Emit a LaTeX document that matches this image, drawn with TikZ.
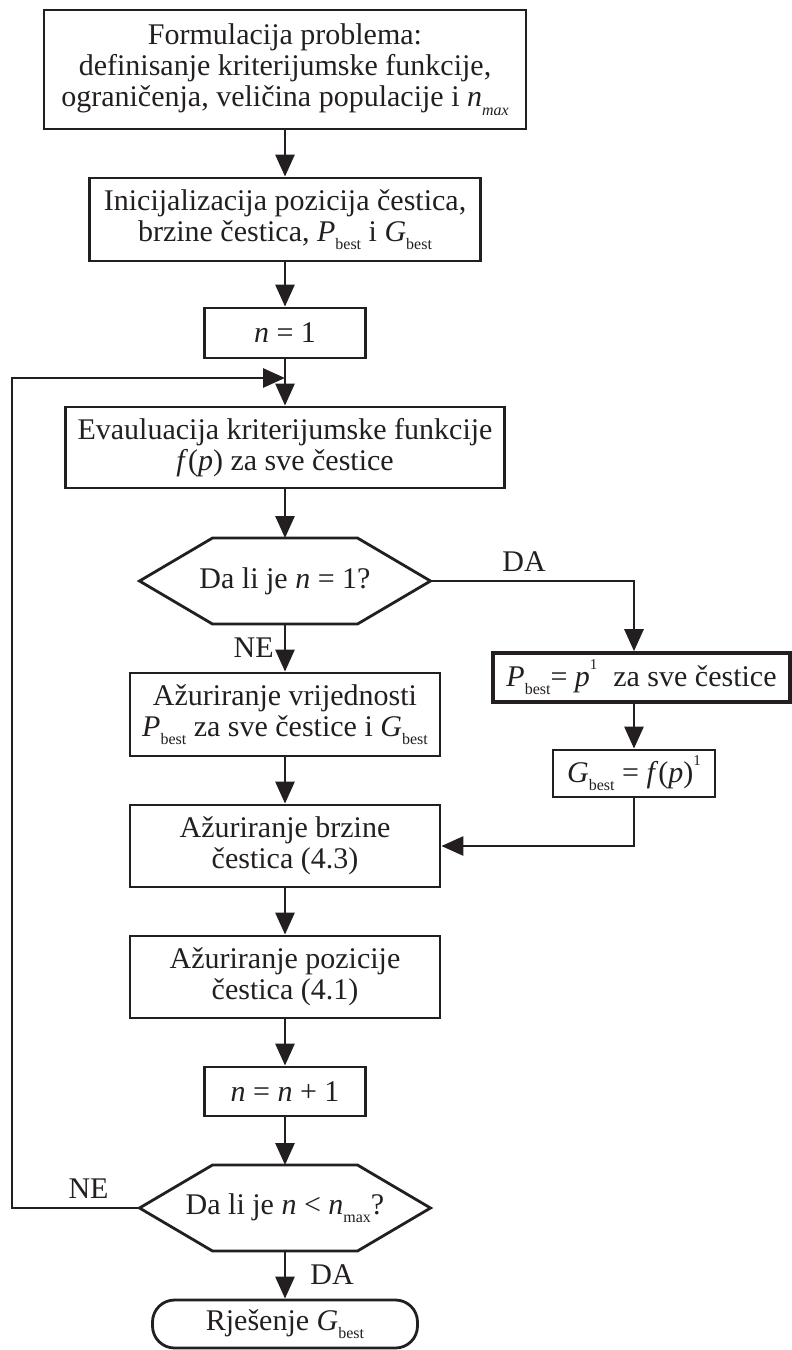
\documentclass[tikz,border=0pt]{standalone}
\usepackage{fontspec}
\setmainfont{Liberation Serif}
\usetikzlibrary{arrows.meta, calc}
\definecolor{tinta}{HTML}{231F20}
\newcommand{\donji}[1]{\raisebox{-0.28em}{\fontsize{16}{16}\selectfont #1}}
\newcommand{\gornji}[1]{\raisebox{0.55em}{\fontsize{15}{15}\selectfont #1}}
\newcommand{\Pbest}{\textit{P}\donji{best}}
\newcommand{\Gbest}{\textit{G}\donji{best}}

\begin{document}
\begin{tikzpicture}[x=1pt, y=-1pt, >={Triangle[length=22pt, width=19pt]},
  every node/.style={font=\fontsize{30}{31}\selectfont, text=tinta},
  blok/.style={draw=tinta, line width=2.8pt, align=center, inner sep=0pt},
  odluka/.style={align=center, inner sep=0pt, outer sep=0pt, minimum width=291pt, minimum height=86pt},
  veza/.style={->, draw=tinta, line width=2.8pt},
  oznaka/.style={inner sep=8pt}]

  \useasboundingbox (0,0) rectangle (792,1350);

  % Glavni stupac
  \node[blok, minimum width=482pt, minimum height=119pt] (form) at (285,69.5)
    {Formulacija problema:\\definisanje kriterijumske funkcije,\\ograničenja, veličina populacije i \textit{n}\donji{\textit{max}}};
  \node[blok, minimum width=391pt, minimum height=83pt] (init) at (285,219.5)
    {Inicijalizacija pozicija čestica,\\brzine čestica, \Pbest{} i \Gbest};
  \node[blok, minimum width=161pt, minimum height=50pt] (n1) at (285,333) {\textit{n} = 1};
  \node[blok, minimum width=439pt, minimum height=81pt] (eval) at (285,447.5)
    {Evauluacija kriterijumske funkcije\\\textit{f}(\textit{p}) za sve čestice};
  \node[odluka] (upit1) at (285,581) {Da li je \textit{n} = 1?};
  \node[blok, minimum width=310pt, minimum height=83pt] (azvr) at (285,714.5)
    {Ažuriranje vrijednosti\\\Pbest{} za sve čestice i \Gbest};
  \node[blok, minimum width=310pt, minimum height=82pt] (brz) at (285,846)
    {Ažuriranje brzine\\čestica (4.3)};
  \node[blok, minimum width=310pt, minimum height=82pt] (poz) at (285,977)
    {Ažuriranje pozicije\\čestica (4.1)};
  \node[blok, minimum width=161pt, minimum height=49pt] (nn1) at (285,1091.5)
    {\textit{n} = \textit{n} + 1};
  \node[odluka] (upit2) at (285,1208) {Da li je \textit{n} < \textit{n}\donji{max}?};
  \node[blok, rounded corners=22pt, minimum width=265pt, minimum height=48pt] (kraj) at (285,1324)
    {Rješenje \Gbest};

  % Desni stupac
  \node[blok, line width=3.6pt, minimum width=297pt, minimum height=49pt] (pinit) at (641.5,677.5)
    {\Pbest{}= \textit{p}\gornji{1}\; za sve čestice};
  \node[blok, minimum width=162pt, minimum height=47pt] (ginit) at (634,773.5)
    {\Gbest{} = \textit{f}(\textit{p})\gornji{1}};

  % Sestougaoni okviri
  \foreach \h in {upit1, upit2}
    \draw[tinta, line width=2.8pt] (\h.west) -- ([xshift=73pt]\h.north west) -- ([xshift=-73pt]\h.north east)
      -- (\h.east) -- ([xshift=-73pt]\h.south east) -- ([xshift=73pt]\h.south west) -- cycle;

  % Veze
  \draw[veza] (form.south) -- (init.north);
  \draw[veza] (init.south) -- (n1.north);
  \draw[veza] (n1.south) -- (eval.north);
  \draw[veza] (eval.south) -- (upit1.north);
  \draw[veza] (upit1.south) -- node[left, inner sep=10pt] {NE} (azvr.north);
  \draw[veza] (azvr.south) -- (brz.north);
  \draw[veza] (brz.south) -- (poz.north);
  \draw[veza] (poz.south) -- (nn1.north);
  \draw[veza] (nn1.south) -- (upit2.north);
  \draw[veza] (upit2.south) -- node[right, inner sep=10pt, xshift=14pt] {DA} (kraj.north);

  \draw[veza] (upit1.east) -| node[above, oznaka, pos=0.23] {DA} (ginit.north |- pinit.north);
  \draw[veza] (ginit.north |- pinit.south) -- (ginit.north);
  \draw[veza] (ginit.south) |- (brz.east);

  % Povratna petlja
  \coordinate (povratak) at (12,378);
  \draw[veza] (upit2.west) -| node[above, oznaka, pos=0.2] {NE} (povratak) -- (n1.south |- povratak);

\end{tikzpicture}
\end{document}
